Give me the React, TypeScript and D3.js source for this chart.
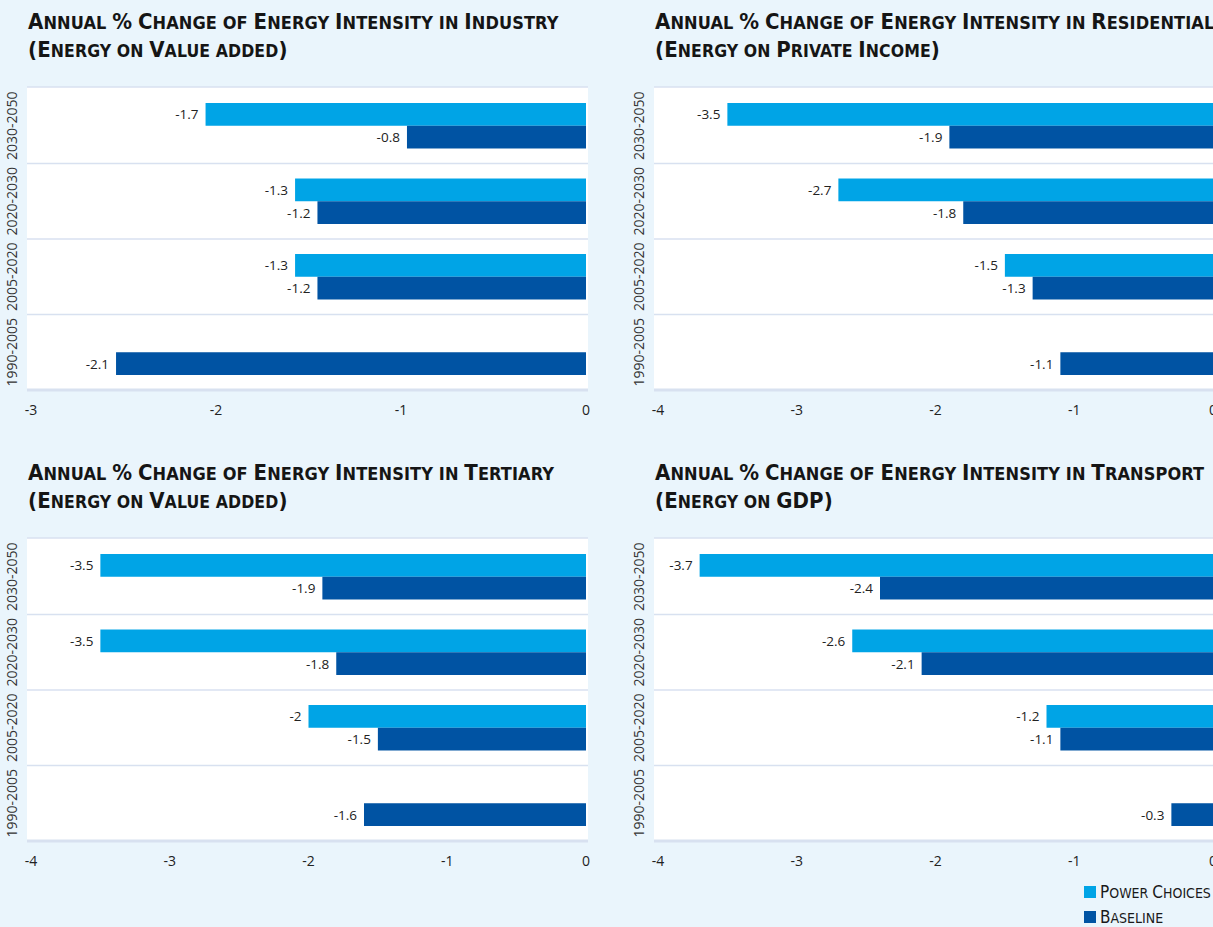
import React from 'react';
import * as d3 from 'd3';

// ---- data ----
const periods = ['2030-2050', '2020-2030', '2005-2020', '1990-2005'];

const industryPower = [-1.7, -1.3, -1.3, null];
const industryBase = [-0.8, -1.2, -1.2, -2.1];
const residentialPower = [-3.5, -2.7, -1.5, null];
const residentialBase = [-1.9, -1.8, -1.3, -1.1];
const tertiaryPower = [-3.5, -3.5, -2, null];
const tertiaryBase = [-1.9, -1.8, -1.5, -1.6];
const transportPower = [-3.7, -2.6, -1.2, null];
const transportBase = [-2.4, -2.1, -1.1, -0.3];

const ticksIndustry = [-3, -2, -1, 0];
const ticksOther = [-4, -3, -2, -1, 0];

const seriesNames = ['Power Choices', 'Baseline'];

const W = 1213;
const H = 927;
const BG = '#eaf5fc';
const LIGHT = '#00a4e6';
const DARK = '#0053a3';
const GRID = '#d8e1f0';
const NUM_FONT = '"Open Sans", "Noto Sans", sans-serif';
const TITLE_FONT = '"DejaVu Sans Condensed", "Liberation Sans Narrow", sans-serif';

interface PanelDef {
  x: number;
  y: number;
  title: [string, string];
  power: (number | null)[];
  base: (number | null)[];
  ticks: number[];
  barMin: number; // the industry chart's bars are drawn on a wider scale than its axis
}

const panels: PanelDef[] = [
  { x: 0, y: 0, title: ['Annual % Change of Energy Intensity in Industry', '(Energy on Value added)'], power: industryPower, base: industryBase, ticks: ticksIndustry, barMin: -2.48 },
  { x: 627, y: 0, title: ['Annual % Change of Energy Intensity in Residential', '(Energy on Private Income)'], power: residentialPower, base: residentialBase, ticks: ticksOther, barMin: -4 },
  { x: 0, y: 451, title: ['Annual % Change of Energy Intensity in Tertiary', '(Energy on Value added)'], power: tertiaryPower, base: tertiaryBase, ticks: ticksOther, barMin: -4 },
  { x: 627, y: 451, title: ['Annual % Change of Energy Intensity in Transport', '(Energy on GDP)'], power: transportPower, base: transportBase, ticks: ticksOther, barMin: -4 },
];

// fake small caps: capitals / symbols big, lowercase shown as smaller capitals
function SmallCaps({ text, big, small }: { text: string; big: number; small: number }) {
  const parts: { s: string; big: boolean }[] = [];
  for (const ch of text) {
    const isBig = !(ch >= 'a' && ch <= 'z') && ch !== ' ';
    const last = parts[parts.length - 1];
    if (last && last.big === isBig) last.s += ch;
    else parts.push({ s: ch, big: isBig });
  }
  return (
    <>
      {parts.map((p, i) => (
        <tspan key={i} fontSize={p.big ? big : small}>{p.s.toUpperCase()}</tspan>
      ))}
    </>
  );
}

function Panel({ p }: { p: PanelDef }) {
  const plotLeft = 27;
  const plotRight = 588;
  const plotTop = 87;
  const plotBottom = 390;

  const x = d3.scaleLinear().domain([p.ticks[0], 0]).range([31, 586]);
  const xBar = d3.scaleLinear().domain([p.barMin, 0]).range([31, 586]);
  const y = d3.scaleBand<string>().domain(periods).range([plotTop + 1, plotBottom]);
  const inner = d3.scaleBand<string>().domain(seriesNames).range([0, y.bandwidth()]).paddingOuter(0.66);

  return (
    <g transform={`translate(${p.x},${p.y})`}>
      <text x={28} y={29} fontFamily={TITLE_FONT} fontWeight={600} fill="#151515" letterSpacing={0.1}>
        <SmallCaps text={p.title[0]} big={22} small={18} />
      </text>
      <text x={28} y={57} fontFamily={TITLE_FONT} fontWeight={600} fill="#151515" letterSpacing={0.1}>
        <SmallCaps text={p.title[1]} big={22} small={17.5} />
      </text>

      <rect x={plotLeft} y={plotTop} width={plotRight - plotLeft} height={plotBottom - plotTop} fill="#fff" />
      <line x1={plotLeft} x2={plotRight} y1={plotTop} y2={plotTop} stroke={GRID} strokeWidth={1.5} />
      {periods.slice(1).map(c => (
        <line key={c} x1={plotLeft} x2={plotRight} y1={y(c)!} y2={y(c)!} stroke={GRID} strokeWidth={1.5} />
      ))}
      <line x1={plotLeft} x2={plotRight} y1={plotBottom} y2={plotBottom} stroke={GRID} strokeWidth={3} />

      {periods.map(c => {
        const cy = y(c)! + y.bandwidth() / 2;
        return (
          <text key={c} transform={`translate(11,${cy}) rotate(-90)`} textAnchor="middle" dominantBaseline="central"
            fontFamily={NUM_FONT} fontSize={14} fill="#333">{c}</text>
        );
      })}

      {periods.map((c, i) => {
        const rows = [
          { v: p.power[i], name: seriesNames[0], color: LIGHT },
          { v: p.base[i], name: seriesNames[1], color: DARK },
        ];
        return rows.map(r => {
          if (r.v == null) return null;
          const by = y(c)! + inner(r.name)!;
          const x0 = xBar(r.v);
          return (
            <g key={c + r.name}>
              <rect x={x0} y={by} width={xBar(0) - x0} height={inner.bandwidth()} fill={r.color} />
              <text x={x0 - 7} y={by + inner.bandwidth() / 2} textAnchor="end" dominantBaseline="central"
                fontFamily={NUM_FONT} fontSize={13.5} fill="#222">{r.v}</text>
            </g>
          );
        });
      })}

      {p.ticks.map(t => (
        <text key={t} x={x(t)} y={409} textAnchor="middle" dominantBaseline="central"
          fontFamily={NUM_FONT} fontSize={14} fill="#222">{t}</text>
      ))}
    </g>
  );
}

export default function App() {
  return (
    <svg width={W} height={H} style={{ position: 'absolute', left: 0, top: 0, display: 'block' }}>
      <rect width={W} height={H} fill={BG} />
      {panels.map((p, i) => <Panel key={i} p={p} />)}

      {seriesNames.map((s, i) => (
        <g key={s} transform={`translate(1084,${886 + i * 25})`}>
          <rect width={12} height={12} fill={i === 0 ? LIGHT : DARK} />
          <text x={16} y={12} fontFamily={TITLE_FONT} fill="#1a1a1a">
            <SmallCaps text={s} big={17} small={14} />
          </text>
        </g>
      ))}
    </svg>
  );
}
